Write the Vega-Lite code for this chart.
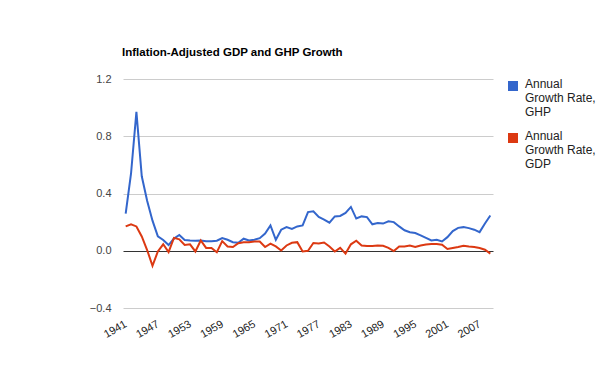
{
  "$schema": "https://vega.github.io/schema/vega-lite/v6.json",
  "autosize": "none",
  "width": 370,
  "height": 229,
  "padding": {"left": 123, "top": 79, "right": 107, "bottom": 63},
  "background": "white",
  "config": {
    "font": "Liberation Sans",
    "view": {"stroke": null},
    "axis": {"labelFont": "Liberation Sans", "labelFontSize": 11, "labelColor": "#444444"}
  },
  "title": {
    "text": "Inflation-Adjusted GDP and GHP Growth",
    "anchor": "start",
    "frame": "group",
    "dx": -1,
    "offset": 15,
    "fontSize": 11.5,
    "fontWeight": "bold",
    "font": "Liberation Sans",
    "color": "#000000"
  },
  "data": {
    "values": [
      {"year": 1941, "GHP": 0.26, "GDP": 0.17},
      {"year": 1942, "GHP": 0.54, "GDP": 0.185},
      {"year": 1943, "GHP": 0.97, "GDP": 0.17},
      {"year": 1944, "GHP": 0.52, "GDP": 0.10},
      {"year": 1945, "GHP": 0.35, "GDP": 0.005},
      {"year": 1946, "GHP": 0.21, "GDP": -0.105},
      {"year": 1947, "GHP": 0.10, "GDP": -0.005},
      {"year": 1948, "GHP": 0.075, "GDP": 0.045},
      {"year": 1949, "GHP": 0.04, "GDP": -0.01},
      {"year": 1950, "GHP": 0.085, "GDP": 0.09},
      {"year": 1951, "GHP": 0.11, "GDP": 0.08},
      {"year": 1952, "GHP": 0.075, "GDP": 0.04},
      {"year": 1953, "GHP": 0.072, "GDP": 0.045},
      {"year": 1954, "GHP": 0.07, "GDP": -0.005},
      {"year": 1955, "GHP": 0.072, "GDP": 0.072},
      {"year": 1956, "GHP": 0.067, "GDP": 0.02},
      {"year": 1957, "GHP": 0.067, "GDP": 0.02},
      {"year": 1958, "GHP": 0.07, "GDP": -0.01},
      {"year": 1959, "GHP": 0.088, "GDP": 0.067},
      {"year": 1960, "GHP": 0.077, "GDP": 0.03},
      {"year": 1961, "GHP": 0.06, "GDP": 0.026},
      {"year": 1962, "GHP": 0.056, "GDP": 0.053},
      {"year": 1963, "GHP": 0.084, "GDP": 0.06},
      {"year": 1964, "GHP": 0.072, "GDP": 0.06},
      {"year": 1965, "GHP": 0.077, "GDP": 0.065},
      {"year": 1966, "GHP": 0.088, "GDP": 0.065},
      {"year": 1967, "GHP": 0.12, "GDP": 0.026},
      {"year": 1968, "GHP": 0.177, "GDP": 0.05},
      {"year": 1969, "GHP": 0.077, "GDP": 0.03},
      {"year": 1970, "GHP": 0.147, "GDP": 0.002},
      {"year": 1971, "GHP": 0.165, "GDP": 0.037},
      {"year": 1972, "GHP": 0.153, "GDP": 0.056},
      {"year": 1973, "GHP": 0.17, "GDP": 0.06},
      {"year": 1974, "GHP": 0.177, "GDP": -0.005},
      {"year": 1975, "GHP": 0.27, "GDP": 0.0},
      {"year": 1976, "GHP": 0.276, "GDP": 0.054},
      {"year": 1977, "GHP": 0.236, "GDP": 0.05},
      {"year": 1978, "GHP": 0.218, "GDP": 0.058},
      {"year": 1979, "GHP": 0.196, "GDP": 0.03},
      {"year": 1980, "GHP": 0.24, "GDP": -0.005},
      {"year": 1981, "GHP": 0.243, "GDP": 0.02},
      {"year": 1982, "GHP": 0.264, "GDP": -0.02},
      {"year": 1983, "GHP": 0.306, "GDP": 0.045},
      {"year": 1984, "GHP": 0.225, "GDP": 0.07},
      {"year": 1985, "GHP": 0.24, "GDP": 0.037},
      {"year": 1986, "GHP": 0.235, "GDP": 0.033},
      {"year": 1987, "GHP": 0.185, "GDP": 0.033},
      {"year": 1988, "GHP": 0.194, "GDP": 0.037},
      {"year": 1989, "GHP": 0.19, "GDP": 0.035},
      {"year": 1990, "GHP": 0.206, "GDP": 0.02},
      {"year": 1991, "GHP": 0.2, "GDP": -0.002},
      {"year": 1992, "GHP": 0.17, "GDP": 0.03},
      {"year": 1993, "GHP": 0.143, "GDP": 0.03},
      {"year": 1994, "GHP": 0.129, "GDP": 0.037},
      {"year": 1995, "GHP": 0.124, "GDP": 0.026},
      {"year": 1996, "GHP": 0.108, "GDP": 0.037},
      {"year": 1997, "GHP": 0.09, "GDP": 0.044},
      {"year": 1998, "GHP": 0.072, "GDP": 0.047},
      {"year": 1999, "GHP": 0.077, "GDP": 0.047},
      {"year": 2000, "GHP": 0.065, "GDP": 0.042},
      {"year": 2001, "GHP": 0.095, "GDP": 0.012},
      {"year": 2002, "GHP": 0.137, "GDP": 0.019},
      {"year": 2003, "GHP": 0.16, "GDP": 0.026},
      {"year": 2004, "GHP": 0.165, "GDP": 0.035},
      {"year": 2005, "GHP": 0.158, "GDP": 0.03},
      {"year": 2006, "GHP": 0.147, "GDP": 0.026},
      {"year": 2007, "GHP": 0.13, "GDP": 0.019},
      {"year": 2008, "GHP": 0.19, "GDP": 0.007},
      {"year": 2009, "GHP": 0.246, "GDP": -0.02}
    ]
  },
  "transform": [{"fold": ["GHP", "GDP"], "as": ["series", "value"]}],
  "mark": {"type": "line", "strokeWidth": 2},
  "encoding": {
    "x": {
      "field": "year",
      "type": "ordinal",
      "scale": {"type": "point", "padding": 0.5},
      "axis": {
        "values": [1941, 1947, 1953, 1959, 1965, 1971, 1977, 1983, 1989, 1995, 2001, 2007],
        "title": null,
        "labelAngle": -30,
        "labelAlign": "right",
        "labelBaseline": "middle",
        "labelPadding": 15,
        "labelColor": "#222222",
        "ticks": false,
        "domain": false,
        "grid": false
      }
    },
    "y": {
      "field": "value",
      "type": "quantitative",
      "scale": {"domain": [-0.4, 1.2], "nice": false, "zero": false},
      "axis": {
        "orient": "left",
        "values": [-0.4, 0, 0.4, 0.8, 1.2],
        "format": ".1f",
        "title": null,
        "ticks": false,
        "domain": false,
        "grid": true,
        "gridColor": {"condition": {"test": "datum.value === 0", "value": "#333333"}, "value": "#cccccc"},
        "labelAlign": "right",
        "labelPadding": 12
      }
    },
    "color": {
      "field": "series",
      "type": "nominal",
      "scale": {"domain": ["GHP", "GDP"], "range": ["#3366cc", "#dc3912"]},
      "legend": {
        "title": null,
        "orient": "none",
        "legendX": 384,
        "legendY": 2,
        "symbolType": "square",
        "symbolSize": 100,
        "symbolStrokeWidth": 0,
        "labelExpr": "['Annual', 'Growth Rate,', datum.label]",
        "labelFontSize": 12,
        "labelColor": "#222222",
        "labelFont": "Liberation Sans",
        "labelBaseline": "top",
        "labelOffset": 6,
        "labelLineHeight": 14.5,
        "rowPadding": 12,
        "encode": {
          "symbols": {"update": {"fill": {"scale": "color", "field": "value"}, "fillOpacity": {"value": 1}, "y": {"value": 5}}},
          "labels": {"update": {"y": {"value": -2}}}
        }
      }
    }
  }
}
